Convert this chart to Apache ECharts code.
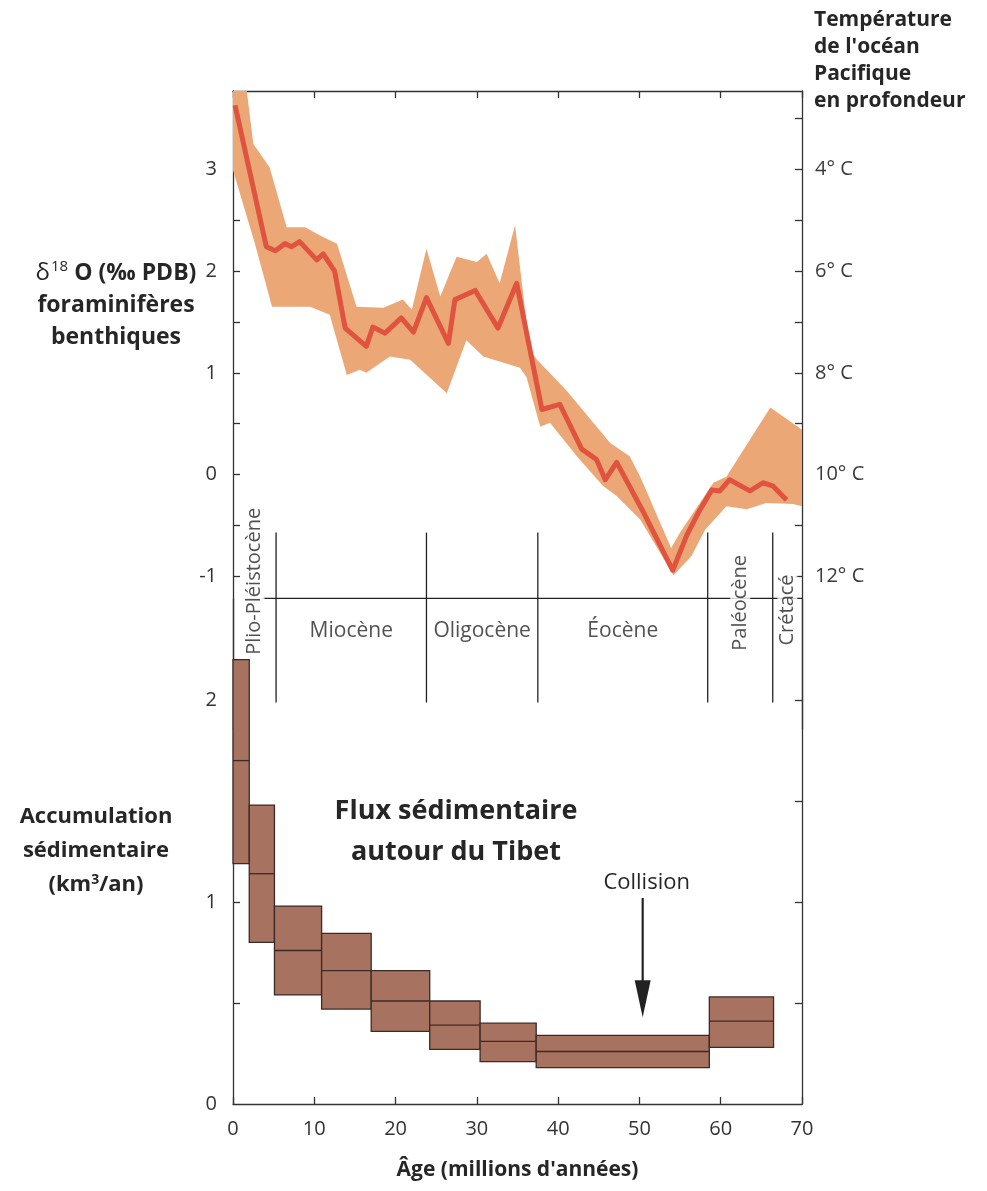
<!DOCTYPE html>
<html>
<head>
<meta charset="utf-8">
<script src="https://cdn.jsdelivr.net/npm/echarts@6/dist/echarts.min.js"></script>
<style>
html,body{margin:0;padding:0;background:#fff;}
#chart{width:987px;height:1191px;}
</style>
</head>
<body>
<div id="chart"></div>
<script>
// ---------- DATA ----------
// δ18O benthic foraminifera curve (age in Ma, δ18O ‰ PDB)
const ages18O = [0.25, 4.1, 5.2, 6.4, 7.2, 8.2, 10.3, 11.1, 12.5, 13.8, 16.4, 17.2, 18.7, 20.7, 22.2, 23.8, 26.5, 27.3, 29.8, 32.6, 34.9, 36.7, 38.0, 40.2, 42.9, 44.7, 45.8, 47.2, 50.5, 54.1, 55.8, 57.2, 58.9, 59.9, 61.1, 63.6, 65.2, 66.4, 68.1];
const d18O = [3.63, 2.24, 2.2, 2.27, 2.24, 2.29, 2.11, 2.17, 2.0, 1.44, 1.26, 1.45, 1.39, 1.54, 1.40, 1.74, 1.29, 1.72, 1.81, 1.44, 1.88, 1.16, 0.64, 0.69, 0.25, 0.15, -0.05, 0.12, -0.37, -0.94, -0.6, -0.38, -0.15, -0.16, -0.05, -0.16, -0.08, -0.11, -0.25];
// uncertainty envelope
const bandUpperAge = [0, 1.7, 2.5, 4.5, 6.6, 8.9, 10.7, 12.8, 15.2, 18.5, 20.9, 22.0, 23.8, 25.5, 27.5, 30.0, 31.2, 32.8, 34.7, 36.5, 37.4, 41.0, 46.4, 48.8, 50.1, 53.9, 55.0, 59.1, 60.7, 66.1, 70];
const bandUpperVal = [3.77, 3.77, 3.25, 3.02, 2.43, 2.43, 2.35, 2.27, 1.65, 1.64, 1.72, 1.62, 2.22, 1.75, 2.14, 2.09, 2.17, 1.88, 2.45, 1.23, 1.13, 0.83, 0.31, 0.18, -0.02, -0.72, -0.57, -0.08, -0.02, 0.66, 0.44];
const bandLowerAge = [0, 2.7, 4.8, 9.5, 11.9, 14.0, 15.6, 16.4, 19.3, 21.8, 26.3, 28.7, 30.8, 35.3, 36.1, 37.8, 39.0, 42.3, 45.5, 47.2, 50.1, 54.2, 56.4, 58.1, 60.7, 63.2, 65.6, 68.9, 70];
const bandLowerVal = [2.99, 2.27, 1.65, 1.65, 1.57, 0.98, 1.03, 1.0, 1.16, 1.13, 0.80, 1.32, 1.16, 1.05, 0.96, 0.47, 0.51, 0.18, -0.11, -0.21, -0.44, -0.99, -0.8, -0.54, -0.31, -0.34, -0.28, -0.29, -0.31];

// Sediment flux boxes (km3/yr)
const boxStart = [0, 2.0, 5.1, 10.9, 17.0, 24.2, 30.4, 37.3, 58.6];
const boxEnd   = [2.0, 5.1, 10.9, 17.0, 24.2, 30.4, 37.3, 58.6, 66.5];
const boxLow   = [1.19, 0.80, 0.54, 0.47, 0.36, 0.27, 0.21, 0.18, 0.28];
const boxMid   = [1.70, 1.14, 0.76, 0.66, 0.51, 0.39, 0.31, 0.26, 0.41];
const boxHigh  = [2.20, 1.48, 0.98, 0.845, 0.66, 0.51, 0.40, 0.34, 0.53];

// Geological periods
const periodNames = ['Plio-Pléistocène', 'Miocène', 'Oligocène', 'Éocène', 'Paléocène', 'Crétacé'];
const periodBounds = [0, 5.3, 23.8, 37.5, 58.4, 66.4, 70];

// Collision
const collisionAge = 50.4;
const collisionLabel = 'Collision';

// Tick labels
const ageTicks = [0, 10, 20, 30, 40, 50, 60, 70];
const d18OLabels = [-1, 0, 1, 2, 3];
const d18OTicks = [-1, -0.5, 0, 0.5, 1, 1.5, 2, 2.5, 3, 3.5];
const fluxLabels = [0, 1, 2];
const fluxTicks = [0.5, 1, 1.5, 2];

// ---------- STYLE ----------
const FONT = '"Open Sans", Lato, sans-serif';
const INK = '#262626';
const AXIS = '#333';
const BAND = '#ECA776';
const LINE = '#E0533F';
const BOX = '#A87260';
const BOXEDGE = '#3a2b26';
const DIVIDER_Y = -1.216;       // δ18O units, boundary between panels
const BOUND_TOP = -0.57, BOUND_BOT = -2.24;

const chart = echarts.init(document.getElementById('chart'), null, {renderer: 'canvas'});

function zip(a, b) { return a.map((v, i) => [v, b[i]]); }

const horizLabels = [], vertLabels = [];
const vertY = {0: -0.99, 4: -1.26, 5: -1.33};
periodNames.forEach((n, i) => {
  const mid = (periodBounds[i] + periodBounds[i + 1]) / 2;
  if (i === 0 || i === 4 || i === 5) vertLabels.push({value: [mid, vertY[i]], name: n, label: i === 0 ? {offset: [-6, 0]} : {}});
  else horizLabels.push({value: [mid, -1.54], name: n});
});

const axisLineStyle = {color: AXIS, width: 1.3};

const option = {
  animation: false,
  backgroundColor: '#fff',
  textStyle: {fontFamily: FONT},
  grid: [
    {left: 233, right: 185, top: 91, height: 638},
    {left: 233, right: 185, top: 599, height: 505}
  ],
  xAxis: [
    {gridIndex: 0, type: 'value', position: 'top', min: 0, max: 70, interval: 10,
     axisLine: {show: true, onZero: false, lineStyle: axisLineStyle},
     axisTick: {show: true, inside: true, length: 7, lineStyle: axisLineStyle},
     axisLabel: {show: false}, splitLine: {show: false}},
    {gridIndex: 1, type: 'value', position: 'bottom', min: 0, max: 70, interval: 10,
     axisLine: {show: true, onZero: false, lineStyle: axisLineStyle},
     axisTick: {show: true, inside: true, length: 7, lineStyle: axisLineStyle},
     axisLabel: {show: true, color: '#333', fontSize: 20, margin: 15, fontFamily: FONT,
       customValues: ageTicks},
     splitLine: {show: false},
     name: 'Âge (millions d\'années)', nameLocation: 'middle', nameGap: 56,
     nameTextStyle: {color: INK, fontSize: 21, fontWeight: 'bold', fontFamily: FONT}}
  ],
  yAxis: [
    {gridIndex: 0, type: 'value', position: 'left', min: -2.5, max: 3.77,
     axisLine: {show: true, onZero: false, lineStyle: axisLineStyle},
     axisTick: {show: true, inside: true, length: 7, lineStyle: axisLineStyle, customValues: d18OTicks},
     axisLabel: {show: true, color: '#333', fontSize: 20, margin: 16, fontFamily: FONT, customValues: d18OLabels},
     splitLine: {show: false}},
    {gridIndex: 0, type: 'value', position: 'right', min: -2.5, max: 3.77,
     axisLine: {show: true, onZero: false, lineStyle: axisLineStyle},
     axisTick: {show: true, inside: true, length: 7, lineStyle: axisLineStyle, customValues: d18OTicks},
     axisLabel: {show: true, color: '#3a3a3a', fontSize: 20, margin: 13, fontFamily: FONT, customValues: d18OLabels,
       formatter: v => (10 - 2 * v) + '° C'},
     splitLine: {show: false}},
    {gridIndex: 1, type: 'value', position: 'left', min: 0, max: 2.5,
     axisLine: {show: true, onZero: false, lineStyle: axisLineStyle},
     axisTick: {show: true, inside: true, length: 7, lineStyle: axisLineStyle, customValues: fluxTicks},
     axisLabel: {show: true, color: '#333', fontSize: 20, margin: 16, fontFamily: FONT, customValues: fluxLabels},
     splitLine: {show: false}},
    {gridIndex: 1, type: 'value', position: 'right', min: 0, max: 2.5,
     axisLine: {show: true, onZero: false, lineStyle: axisLineStyle},
     axisTick: {show: true, inside: true, length: 7, lineStyle: axisLineStyle, customValues: fluxTicks},
     axisLabel: {show: false},
     splitLine: {show: false}}
  ],
  series: [
    // envelope
    {type: 'custom', xAxisIndex: 0, yAxisIndex: 0, clip: true, z: 2,
     data: [[0, 0]],
     renderItem: (params, api) => {
       const pts = [];
       bandUpperAge.forEach((a, i) => pts.push(api.coord([a, bandUpperVal[i]])));
       for (let i = bandLowerAge.length - 1; i >= 0; i--) pts.push(api.coord([bandLowerAge[i], bandLowerVal[i]]));
       return {type: 'polygon', shape: {points: pts}, style: {fill: BAND}};
     }},
    // δ18O curve
    {type: 'line', xAxisIndex: 0, yAxisIndex: 0, data: zip(ages18O, d18O), showSymbol: false, symbol: 'none',
     lineStyle: {color: LINE, width: 5, join: 'round'}, z: 3, clip: true},
    // period boundary lines
    {type: 'custom', xAxisIndex: 0, yAxisIndex: 0, z: 4,
     data: periodBounds.slice(1, -1).map(b => [b, 0]),
     renderItem: (params, api) => {
       const x = api.value(0);
       const p1 = api.coord([x, BOUND_TOP]), p2 = api.coord([x, BOUND_BOT]);
       return {type: 'line', shape: {x1: p1[0], y1: p1[1], x2: p2[0], y2: p2[1]}, style: {stroke: '#222', lineWidth: 1.3}};
     }},
    // divider line
    {type: 'line', xAxisIndex: 0, yAxisIndex: 0, data: [[3.6, DIVIDER_Y], [70, DIVIDER_Y]], symbol: 'none',
     lineStyle: {color: '#222', width: 1.3}, z: 4},
    // horizontal period labels
    {type: 'scatter', xAxisIndex: 0, yAxisIndex: 0, symbolSize: 0, z: 6, data: horizLabels,
     itemStyle: {color: 'rgba(0,0,0,0)'},
     label: {show: true, position: 'inside', formatter: p => p.name, color: INK, fontSize: 21, fontFamily: FONT}},
    // vertical period labels
    {type: 'scatter', xAxisIndex: 0, yAxisIndex: 0, symbolSize: 0, z: 6, data: vertLabels,
     itemStyle: {color: 'rgba(0,0,0,0)'},
     label: {show: true, position: 'inside', rotate: 90, formatter: p => p.name, color: INK, fontSize: 20, fontFamily: FONT,
       backgroundColor: '#fff', padding: [0, 3]}},
    // sediment flux boxes
    {type: 'custom', xAxisIndex: 1, yAxisIndex: 2, z: 7,
     data: boxStart.map((s, i) => [s, boxEnd[i], boxLow[i], boxMid[i], boxHigh[i]]),
     renderItem: (params, api) => {
       const tl = api.coord([api.value(0), api.value(4)]);
       const br = api.coord([api.value(1), api.value(2)]);
       const ml = api.coord([api.value(0), api.value(3)]);
       const mr = api.coord([api.value(1), api.value(3)]);
       return {type: 'group', children: [
         {type: 'rect', shape: {x: tl[0], y: tl[1], width: br[0] - tl[0], height: br[1] - tl[1]},
          style: {fill: BOX, stroke: BOXEDGE, lineWidth: 1.3}},
         {type: 'line', shape: {x1: ml[0], y1: ml[1], x2: mr[0], y2: mr[1]}, style: {stroke: BOXEDGE, lineWidth: 1.3}}
       ]};
     }},
    // collision arrow
    {type: 'custom', xAxisIndex: 1, yAxisIndex: 2, z: 5,
     data: [[collisionAge, 1.02, 0.43]],
     renderItem: (params, api) => {
       const top = api.coord([api.value(0), api.value(1)]);
       const tip = api.coord([api.value(0), api.value(2)]);
       const hl = 37, hw = 8;
       return {type: 'group', children: [
         {type: 'line', shape: {x1: top[0], y1: top[1], x2: tip[0], y2: tip[1] - hl + 2}, style: {stroke: '#222', lineWidth: 2.2}},
         {type: 'polygon', shape: {points: [[tip[0] - hw, tip[1] - hl], [tip[0] + hw, tip[1] - hl], [tip[0], tip[1]]]}, style: {fill: '#222'}},
         {type: 'text', x: top[0] + 4, y: top[1] - 15, style: {text: collisionLabel, fill: INK, font: '22px ' + FONT, textAlign: 'center', textVerticalAlign: 'middle'}}
       ]};
     }}
  ],
  graphic: [
    {type: 'text', left: 814, top: 7,
     style: {text: 'Température\nde l\'océan\nPacifique\nen profondeur', fill: INK,
       font: 'bold 21px ' + FONT, lineHeight: 27}},
    {type: 'text', x: 116, y: 305,
     style: {text: '{d|δ}{s|18}{b| O (‰ PDB)}\n{b|foraminifères}\n{b|benthiques}', align: 'center', verticalAlign: 'middle',
       rich: {
         d: {fontSize: 24, fontFamily: FONT, fill: INK, lineHeight: 32},
         s: {fontSize: 15, fontFamily: FONT, fill: INK, lineHeight: 32, padding: [0, 0, 12, 1]},
         b: {fontSize: 23, fontFamily: FONT, fontWeight: 'bold', fill: INK, lineHeight: 32, align: 'center'}
       }}},
    {type: 'text', x: 96, y: 851,
     style: {text: '{b|Accumulation}\n{b|sédimentaire}\n{b|(km}{s|3}{b|/an)}', align: 'center', verticalAlign: 'middle',
       rich: {
         b: {fontSize: 22, fontFamily: FONT, fontWeight: 'bold', fill: INK, lineHeight: 34},
         s: {fontSize: 14, fontFamily: FONT, fontWeight: 'bold', fill: INK, lineHeight: 34, padding: [0, 0, 10, 0]}
       }}},
    {type: 'text', x: 456, y: 832,
     style: {text: 'Flux sédimentaire\nautour du Tibet', fill: INK, font: 'bold 27px ' + FONT,
       align: 'center', verticalAlign: 'middle', lineHeight: 41}}
  ]
};
chart.setOption(option);
</script>
</body>
</html>
